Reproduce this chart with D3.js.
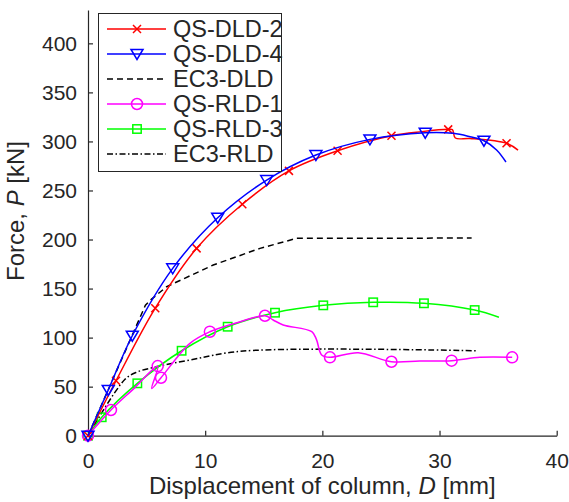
<!DOCTYPE html>
<html>
<head>
<meta charset="utf-8">
<script src="https://cdn.jsdelivr.net/npm/d3@7"></script>
<style>
  html, body { margin: 0; padding: 0; background: #fff; }
  svg { display: block; font-family: "Liberation Sans", Arial, Helvetica, sans-serif; }
</style>
</head>
<body>
<svg id="chart" width="569" height="502"></svg>
<script>
// Load–displacement curves, [D (mm), P (kN)]
const qsDld2 = [[0,0],[2.39,56],[5.74,130],[9.27,191],[13.17,236],[17.15,270],[21.3,290.5],[25.9,305.8],[28.5,310],[30.74,312.3],[31.1,312],[31.35,303.5],[32.6,303],[35.72,298.1],[36.7,291.2]];
const qsDld2Marks = [[0,0],[2.39,56],[5.74,130],[9.27,191],[13.17,236],[17.15,270],[21.3,290.5],[25.9,305.8],[30.74,312.3],[35.72,298.1]];

const qsDld4 = [[0,0],[1.73,46.6],[3.78,101.9],[7.23,170.6],[11.07,222.2],[15.25,260.6],[19.45,286.1],[24.06,302.1],[28.78,308.9],[31.17,308.3],[32.6,304.8],[33.79,300.7],[34.87,291.3],[35.67,279]];
const qsDld4Marks = [[0,0],[1.73,46.6],[3.78,101.9],[7.23,170.6],[11.07,222.2],[15.25,260.6],[19.45,286.1],[24.06,302.1],[28.78,308.9],[33.79,300.7]];

const ec3Dld = [[0,0],[4.9,133],[5.4,139],[6.72,152],[10.69,174],[14.68,191],[17.8,201.2],[32.74,201.5]];

const qsRld1 = [[0,0],[1.96,26.2],[4.0,49],[5.95,71],[5.44,48.2],[6.23,59.1],[8.7,94.2],[10.4,106],[12.8,115.5],[15.1,122.3],[15.8,118],[16.66,112.9],[19.1,106],[19.5,98],[19.94,82.3],[20.65,79.9],[23.06,84.6],[25.9,75.4],[28.3,76.1],[31.03,76.5],[33.45,79.9],[36.2,79.9]];
const qsRld1Marks = [[0,0],[1.96,26.2],[5.95,71],[6.23,59.1],[10.4,106],[15.1,122.3],[20.65,79.9],[25.9,75.4],[31.03,76.5],[36.2,79.9]];

const qsRld3 = [[0,0],[1.17,18.8],[4.21,53.4],[7.99,86.6],[11.92,111.1],[15.96,125.4],[20.08,132.9],[24.34,136],[28.67,135],[33.0,128.1],[35.07,120.7]];
const qsRld3Marks = [[0,0],[1.17,18.8],[4.21,53.4],[7.99,86.6],[11.92,111.1],[15.96,125.4],[20.08,132.9],[24.34,136],[28.67,135],[33.0,128.1]];

const ec3Rld = [[0,0],[3.16,57.5],[4.2,65],[5.86,70.3],[8.7,77.2],[13.25,86.3],[33.3,86.6]];

const xTicks = [0, 10, 20, 30, 40];
const yTicks = [0, 50, 100, 150, 200, 250, 300, 350, 400];
const legendNames = ["QS-DLD-2", "QS-DLD-4", "EC3-DLD", "QS-RLD-1", "QS-RLD-3", "EC3-RLD"];

const axisColor = "#262626";
const tickFont = "21px";
const labelFont = "24px";
const legendFont = "23.5px";
const svg = d3.select("#chart");

const x = d3.scaleLinear().domain([0, 40]).range([88, 556.7]);
const y = d3.scaleLinear().domain([0, 434]).range([435.7, 10]);

// Axes (left and bottom only, ticks pointing inward)
const gx = svg.append("g").attr("transform", `translate(0,${y(0)})`)
  .call(d3.axisBottom(x).tickValues(xTicks).tickSizeInner(-5).tickSizeOuter(0).tickPadding(17));
const gy = svg.append("g").attr("transform", `translate(${x(0)},0)`)
  .call(d3.axisLeft(y).tickValues(yTicks).tickSizeInner(-5).tickSizeOuter(0).tickPadding(11));
[gx, gy].forEach(g => {
  g.select(".domain").attr("stroke", axisColor).attr("stroke-width", 1.2);
  g.selectAll(".tick line").attr("stroke", axisColor).attr("stroke-width", 1.2);
  g.selectAll(".tick text").attr("fill", axisColor).style("font-size", tickFont)
    .style("font-family", '"Liberation Sans", Arial, Helvetica, sans-serif');
});

// Axis titles
const xt = svg.append("text").attr("x", (x(0) + x(40)) / 2).attr("y", 494)
  .attr("text-anchor", "middle").attr("fill", axisColor).style("font-size", labelFont);
xt.append("tspan").text("Displacement of column, ");
xt.append("tspan").attr("font-style", "italic").text("D");
xt.append("tspan").text(" [mm]");

const yt = svg.append("text").attr("transform", "translate(24,211) rotate(-90)")
  .attr("text-anchor", "middle").attr("fill", axisColor).style("font-size", labelFont);
yt.append("tspan").text("Force, ");
yt.append("tspan").attr("font-style", "italic").text("P");
yt.append("tspan").text(" [kN]");

const smooth = d3.line().x(d => x(d[0])).y(d => y(d[1])).curve(d3.curveCatmullRom.alpha(0.5));
const straight = d3.line().x(d => x(d[0])).y(d => y(d[1]));

const plot = svg.append("g");

function drawLine(data, color, gen, dash) {
  plot.append("path").datum(data).attr("d", gen).attr("fill", "none")
    .attr("stroke", color).attr("stroke-width", 1.5)
    .attr("stroke-dasharray", dash || null);
}

// Marker symbols
function marker(g, type, color) {
  if (type === "x") {
    g.append("path").attr("d", "M-4,-4L4,4M-4,4L4,-4").attr("stroke", color).attr("stroke-width", 1.5).attr("fill", "none");
  } else if (type === "tri") {
    g.append("path").attr("d", "M-6,-4.5L6,-4.5L0,5.5Z").attr("stroke", color).attr("stroke-width", 1.5).attr("fill", "none");
  } else if (type === "circle") {
    g.append("circle").attr("r", 5.5).attr("stroke", color).attr("stroke-width", 1.5).attr("fill", "none");
  } else if (type === "square") {
    g.append("rect").attr("x", -4.2).attr("y", -4.2).attr("width", 8.4).attr("height", 8.4)
      .attr("stroke", color).attr("stroke-width", 1.5).attr("fill", "none");
  }
}
function drawMarks(data, type, color) {
  plot.selectAll(null).data(data).enter().append("g")
    .attr("transform", d => `translate(${x(d[0])},${y(d[1])})`)
    .each(function () { marker(d3.select(this), type, color); });
}

const dashed = "6,4";
const dashDot = "6,2.5,1.5,2.5";

drawLine(ec3Dld, "#000", straight, dashed);
drawLine(ec3Rld, "#000", smooth, dashDot);
drawLine(qsRld3, "#00ff00", smooth);
drawMarks(qsRld3Marks, "square", "#00ff00");
drawLine(qsRld1, "#ff00ff", smooth);
drawMarks(qsRld1Marks, "circle", "#ff00ff");
drawLine(qsDld2, "#ff0000", smooth);
drawMarks(qsDld2Marks, "x", "#ff0000");
drawLine(qsDld4, "#0000ff", smooth);
drawMarks(qsDld4Marks, "tri", "#0000ff");

// Legend
const legendSpec = [
  { color: "#ff0000", type: "x" },
  { color: "#0000ff", type: "tri" },
  { color: "#000", dash: dashed },
  { color: "#ff00ff", type: "circle" },
  { color: "#00ff00", type: "square" },
  { color: "#000", dash: dashDot }
];
const lg = svg.append("g");
lg.append("rect").attr("x", 98.5).attr("y", 13.5).attr("width", 183).attr("height", 158)
  .attr("fill", "#fff").attr("stroke", axisColor).attr("stroke-width", 1);
legendNames.forEach((name, i) => {
  const cy = 29 + i * 25;
  const s = legendSpec[i];
  lg.append("line").attr("x1", 107).attr("x2", 166).attr("y1", cy).attr("y2", cy)
    .attr("stroke", s.color).attr("stroke-width", 1.5).attr("stroke-dasharray", s.dash || null);
  if (s.type) marker(lg.append("g").attr("transform", `translate(137,${cy})`), s.type, s.color);
  lg.append("text").attr("x", 173).attr("y", cy).attr("dy", "0.36em")
    .attr("fill", axisColor).style("font-size", legendFont).text(name);
});
</script>
</body>
</html>
